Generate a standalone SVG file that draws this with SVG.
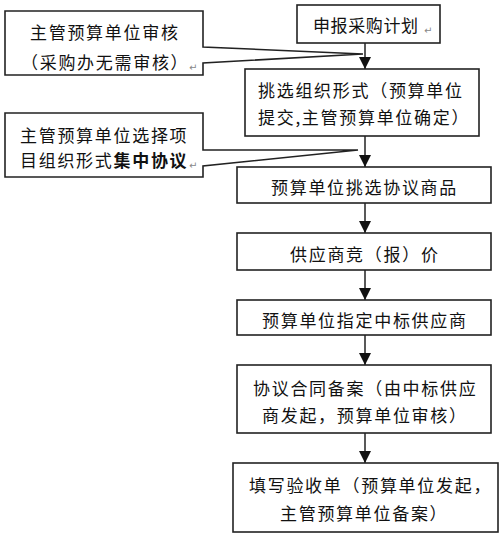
<svg xmlns="http://www.w3.org/2000/svg" width="500" height="542" viewBox="0 0 500 542">
<style>
.box{fill:#fff;stroke:#222;stroke-width:1.6}
.t{font-family:"Noto Sans CJK SC","Noto Sans CJK TC",sans-serif;font-size:17px;letter-spacing:1.7px;fill:#111}
.pm{font-family:"DejaVu Sans",sans-serif;font-size:10px;fill:#888}
.ln{stroke:#222;stroke-width:1.5;fill:none}
</style>
<defs>
<marker id="ah" markerUnits="userSpaceOnUse" markerWidth="12" markerHeight="12" viewBox="0 0 12 12" refX="12" refY="6" orient="auto">
<path d="M0,0 L12,6 L0,12 Z" fill="#111"/>
</marker>
</defs>
<rect width="500" height="542" fill="#fff"/>
<g id="connectors">
<line class="ln" x1="365" y1="43" x2="365" y2="69" marker-end="url(#ah)"/>
<line class="ln" x1="365" y1="136" x2="365" y2="167" marker-end="url(#ah)"/>
<line class="ln" x1="365" y1="203" x2="365" y2="233" marker-end="url(#ah)"/>
<line class="ln" x1="365" y1="270" x2="365" y2="300" marker-end="url(#ah)"/>
<line class="ln" x1="365" y1="335" x2="365" y2="365" marker-end="url(#ah)"/>
<line class="ln" x1="365" y1="433" x2="365" y2="463" marker-end="url(#ah)"/>
</g>
<g id="callout1">
<path class="box" d="M5,11 H203 V47 L363,54 L203,63 V75 H5 Z"/>
<text class="t" x="30" y="38.5">主管预算单位审核</text>
<text class="t" x="21" y="68.5">（采购办无需审核）</text>
<text class="pm" x="189" y="71">↵</text>
</g>
<g id="callout2">
<path class="box" d="M5,113 H203 V150 L358,150 L203,166 V177 H5 Z"/>
<text class="t" x="20" y="141.5">主管预算单位选择项</text>
<text class="t" x="20" y="166.5">目组织形式<tspan font-weight="bold">集中协议</tspan></text>
<text class="pm" x="189" y="169">↵</text>
</g>
<g id="step1">
<rect class="box" x="297" y="5" width="143" height="38"/>
<text class="t" x="313" y="31.5" style="letter-spacing:0.6px">申报采购计划</text>
<text class="pm" x="424" y="34">↵</text>
</g>
<g id="step2">
<rect class="box" x="245" y="69" width="234" height="67"/>
<text class="t" x="258" y="96.5">挑选组织形式（预算单位</text>
<text class="t" x="258" y="123.5">提交,主管预算单位确定）</text>
</g>
<g id="step3">
<rect class="box" x="237" y="167" width="254" height="36"/>
<text class="t" x="271" y="194">预算单位挑选协议商品</text>
</g>
<g id="step4">
<rect class="box" x="237" y="233" width="254" height="37"/>
<text class="t" x="290" y="261">供应商竞（报）价</text>
</g>
<g id="step5">
<rect class="box" x="237" y="300" width="254" height="35"/>
<text class="t" x="262" y="327">预算单位指定中标供应商</text>
</g>
<g id="step6">
<rect class="box" x="237" y="365" width="254" height="68"/>
<text class="t" x="253" y="395">协议合同备案（由中标供应</text>
<text class="t" x="262" y="421.5">商发起，预算单位审核）</text>
</g>
<g id="step7">
<rect class="box" x="233" y="463" width="265" height="69"/>
<text class="t" x="249" y="491.5">填写验收单（预算单位发起，</text>
<text class="t" x="280" y="519.5">主管预算单位备案）</text>
</g>
</svg>
